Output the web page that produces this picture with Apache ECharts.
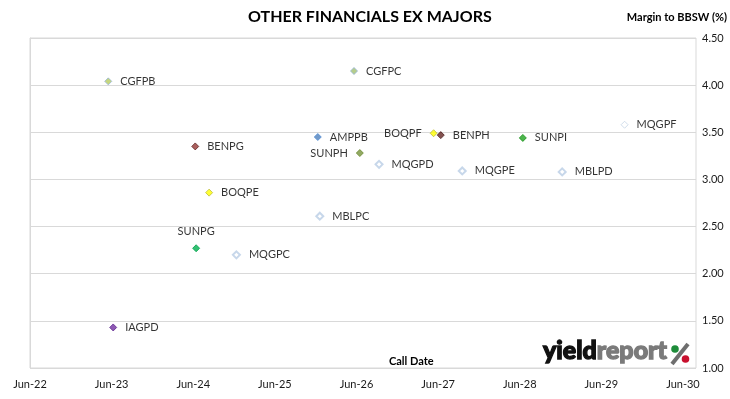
<!DOCTYPE html>
<html>
<head>
<meta charset="utf-8">
<script src="https://cdn.jsdelivr.net/npm/echarts@6/dist/echarts.min.js"></script>
<style>
html,body{margin:0;padding:0;background:#fff;}
#chart{width:730px;height:399px;}
</style>
</head>
<body>
<div id="chart"></div>
<script>
// ---- data ----
const securities = ['CGFPB','CGFPC','BENPG','AMPPB','SUNPH','MQGPD','BOQPE','MBLPC','BOQPF','BENPH','SUNPI','MQGPF','MQGPE','MBLPD','SUNPG','MQGPC','IAGPD'];
const callDates  = ['2023-05-17','2026-05-20','2024-06-09','2025-12-09','2026-06-15','2026-09-09','2024-08-10','2025-12-18','2027-05-11','2027-06-12','2028-06-13','2029-09-11','2027-09-16','2028-12-06','2024-06-13','2024-12-10','2023-06-08'];
const margins    = [4.04, 4.15, 3.35, 3.45, 3.28, 3.16, 2.86, 2.61, 3.49, 3.47, 3.44, 3.58, 3.09, 3.08, 2.27, 2.20, 1.43];
const xTickLabels = ['Jun-22','Jun-23','Jun-24','Jun-25','Jun-26','Jun-27','Jun-28','Jun-29','Jun-30'];

// ---- styles ----
const markerStyle = {
  CGFPB: {color:'#B7CC5E', borderColor:'#95B3D7', borderWidth:1},
  CGFPC: {color:'#A3C06E', borderColor:'#95B3D7', borderWidth:1},
  BENPG: {color:'#953735', borderColor:'#632523', borderWidth:1},
  AMPPB: {color:'#4F81BD', borderColor:'#558ED5', borderWidth:1},
  SUNPH: {color:'#77933C', borderColor:'#6A8A30', borderWidth:1},
  MQGPD: {color:'#FFFFFF', borderColor:'#B9CDE5', borderWidth:2},
  BOQPE: {color:'#FFFF00', borderColor:'#BDBD40', borderWidth:1},
  MBLPC: {color:'#FFFFFF', borderColor:'#B9CDE5', borderWidth:2},
  BOQPF: {color:'#FFFF00', borderColor:'#BDBD40', borderWidth:1},
  BENPH: {color:'#632523', borderColor:'#4A1C1A', borderWidth:1},
  SUNPI: {color:'#1FA31F', borderColor:'#179017', borderWidth:1},
  MQGPF: {color:'#FFFFFF', borderColor:'#C6D4E6', borderWidth:1},
  MQGPE: {color:'#FFFFFF', borderColor:'#B9CDE5', borderWidth:2},
  MBLPD: {color:'#FFFFFF', borderColor:'#B9CDE5', borderWidth:2},
  SUNPG: {color:'#00B050', borderColor:'#00A048', borderWidth:1},
  MQGPC: {color:'#FFFFFF', borderColor:'#B9CDE5', borderWidth:2},
  IAGPD: {color:'#7030A0', borderColor:'#602890', borderWidth:1}
};
const labelSide = {SUNPH:'left', BOQPF:'left', SUNPG:'top'};
const FONT = 'Lato';

const DAY = 86400000;
const base = Date.UTC(2022,5,1);
function toYears(s){
  const p = s.split('-').map(Number);
  return (Date.UTC(p[0],p[1]-1,p[2]) - base) / (365*DAY);
}

const points = securities.map((n,i)=>({
  name:n,
  value:[toYears(callDates[i]), margins[i]],
  itemStyle: markerStyle[n],
  label:{position: labelSide[n] || 'right', distance: labelSide[n]==='top' ? 7 : 8}
}));

const chart = echarts.init(document.getElementById('chart'), null, {renderer:'canvas'});
chart.setOption({
  animation:false,
  backgroundColor:'#fff',
  textStyle:{fontFamily:FONT},
  grid:{left:30, right:34, top:38, bottom:31, show:true, borderColor:'#D9D9D9', borderWidth:1, containLabel:false},
  xAxis:{
    type:'value', min:0, max:8.16, interval:1,
    axisLine:{show:false}, axisTick:{show:false}, splitLine:{show:false},
    axisLabel:{
      margin:11, color:'#1a1a1a', fontSize:11, fontFamily:FONT, showMaxLabel:false,
      formatter:v=>{ const k=Math.round(v); return Math.abs(v-k)<1e-6 && xTickLabels[k] ? xTickLabels[k] : ''; }
    }
  },
  yAxis:{
    type:'value', position:'right', min:1, max:4.5, interval:0.5,
    axisLine:{show:true, lineStyle:{color:'#D9D9D9'}},
    axisTick:{show:true, length:4, lineStyle:{color:'#D9D9D9'}},
    splitLine:{show:true, lineStyle:{color:'#D9D9D9', width:1}},
    axisLabel:{margin:6, color:'#1a1a1a', fontSize:11, fontFamily:FONT, formatter:v=>v.toFixed(2)}
  },
  series:[{
    type:'scatter',
    symbol:'diamond',
    symbolSize:7,
    data:points,
    label:{show:true, formatter:'{b}', color:'#000', fontSize:11, fontFamily:FONT},
    emphasis:{disabled:true}
  }],
  graphic:[
    {type:'text', left:248, top:9, style:{text:'OTHER FINANCIALS EX MAJORS', font:'bold 16px '+FONT, fill:'#000'}},
    {type:'text', right:3, top:12, style:{text:'Margin to BBSW (%)', font:'bold 11px '+FONT, fill:'#000'}},
    {type:'text', x:389, y:356, style:{text:'Call Date', font:'bold 11px '+FONT, fill:'#000'}},
    {type:'text', x:543, y:338, style:{
      text:'{a|yield}{b|report}',
      rich:{
        a:{font:'900 25px '+FONT, fill:'#111', stroke:'#111', lineWidth:1.3},
        b:{font:'900 25px '+FONT, fill:'#7A7A7A', stroke:'#7A7A7A', lineWidth:1.3}
      }
    }},
    {type:'line', shape:{x1:688, y1:344, x2:672, y2:364}, style:{stroke:'#6E6E6E', lineWidth:4}},
    {type:'circle', shape:{cx:675, cy:349, r:3.8}, style:{fill:'#1E8C3A'}},
    {type:'circle', shape:{cx:685.5, cy:359, r:3.8}, style:{fill:'#C8102E'}}
  ]
});
</script>
</body>
</html>
